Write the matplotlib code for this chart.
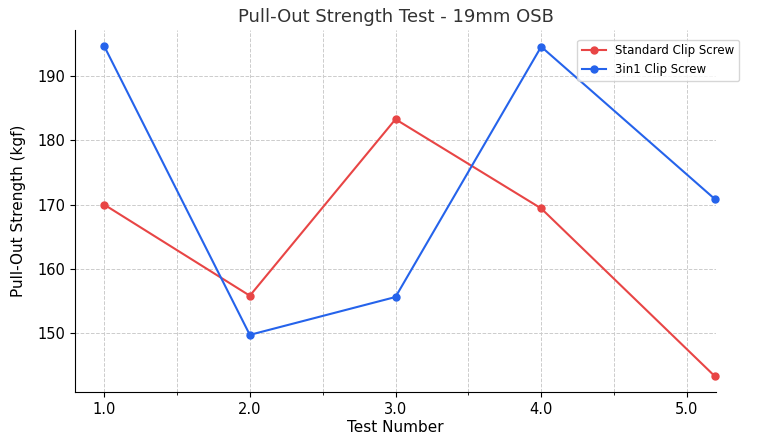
import matplotlib
matplotlib.use('Agg')
import matplotlib.pyplot as plt
from matplotlib.ticker import MultipleLocator, FormatStrFormatter

tests = [1, 2, 3, 4, 5.19]
standard = [170.0, 155.8, 183.3, 169.4, 143.3]
three_in_one = [194.7, 149.7, 155.6, 194.6, 170.9]

fig = plt.figure(figsize=(7.6, 4.34), dpi=100)
ax = fig.add_axes([75 / 760, 1 - 392 / 434, 641 / 760, 362 / 434])

ax.plot(tests, standard, marker='o', markersize=5, color='#e84545',
        label='Standard Clip Screw', clip_on=False)
ax.plot(tests, three_in_one, marker='o', markersize=5, color='#2563eb',
        label='3in1 Clip Screw', clip_on=False)

ax.set_xlim(0.8, 5.2)
ax.set_ylim(140.8, 197.2)
ax.xaxis.set_major_locator(MultipleLocator(1))
ax.xaxis.set_minor_locator(MultipleLocator(0.5))
ax.xaxis.set_major_formatter(FormatStrFormatter('%.1f'))
ax.grid(True, which='both', linestyle='--', color='#cccccc', linewidth=0.7)
ax.spines['top'].set_visible(False)
ax.spines['right'].set_visible(False)
ax.tick_params(labelsize=10.5)

ax.set_title('Pull-Out Strength Test - 19mm OSB', fontsize=13, color='#333333')
ax.set_xlabel('Test Number', fontsize=11, labelpad=2)
ax.set_ylabel('Pull-Out Strength (kgf)', fontsize=11, labelpad=8)
ax.legend(loc='upper right', fontsize=8.5, bbox_to_anchor=(1.045, 0.99))

fig.savefig('out.png', dpi=100)
